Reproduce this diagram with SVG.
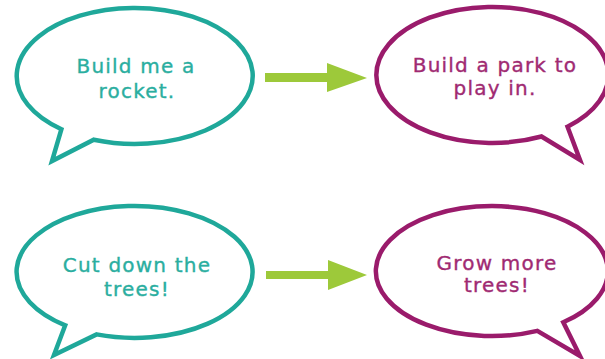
<svg xmlns="http://www.w3.org/2000/svg" width="605" height="359" viewBox="0 0 605 359">
  <style>
    .bubble { fill: #ffffff; stroke-width: 4.5; stroke-linejoin: miter; }
    .teal { stroke: #1fa89a; }
    .plum { stroke: #9a1b6b; }
    .label { font-family: "DejaVu Sans", "Liberation Sans", sans-serif; font-size: 20px; letter-spacing: 1.2px; text-anchor: middle; stroke-width: 0.35; }
    .t1 { fill: #2aaea0; stroke: #2aaea0; }
    .t2 { fill: #a02a72; stroke: #a02a72; }
    .arrow { fill: #9dc93a; }
  </style>
  <rect width="605" height="359" fill="#ffffff"/>

  <!-- connectors -->
  <g id="connectors">
    <polygon class="arrow" points="265,73 327,73 327,63 367,78 327,92 327,82 265,82"/>
    <polygon class="arrow" points="266,271 328,271 328,260 367,275 328,290 328,279 266,279"/>
  </g>

  <!-- speech bubble: Build me a rocket. -->
  <g id="bubble-rocket">
    <path class="bubble teal" d="M 93.8 139.7 A 118 68 0 1 0 61.4 129.2 L 52 161 Z"/>
    <text class="label t1" x="136" y="73">Build me a</text>
    <text class="label t1" x="137" y="98">rocket.</text>
  </g>

  <!-- speech bubble: Build a park to play in. -->
  <g id="bubble-park">
    <path class="bubble plum" d="M 567.5 126.7 A 116 68 0 1 0 541.5 136.5 L 580 160 Z"/>
    <text class="label t2" x="495" y="72">Build a park to</text>
    <text class="label t2" x="495" y="95">play in.</text>
  </g>

  <!-- speech bubble: Cut down the trees! -->
  <g id="bubble-cut">
    <path class="bubble teal" d="M 96.6 334.4 A 118 66 0 1 0 65.2 325.3 L 54 355 Z"/>
    <text class="label t1" x="137" y="272">Cut down the</text>
    <text class="label t1" x="137" y="296">trees!</text>
  </g>

  <!-- speech bubble: Grow more trees! -->
  <g id="bubble-grow">
    <path class="bubble plum" d="M 563.3 322.3 A 116 65 0 1 0 537.3 330.9 L 580 356 Z"/>
    <text class="label t2" x="497" y="270">Grow more</text>
    <text class="label t2" x="497" y="292">trees!</text>
  </g>
</svg>
